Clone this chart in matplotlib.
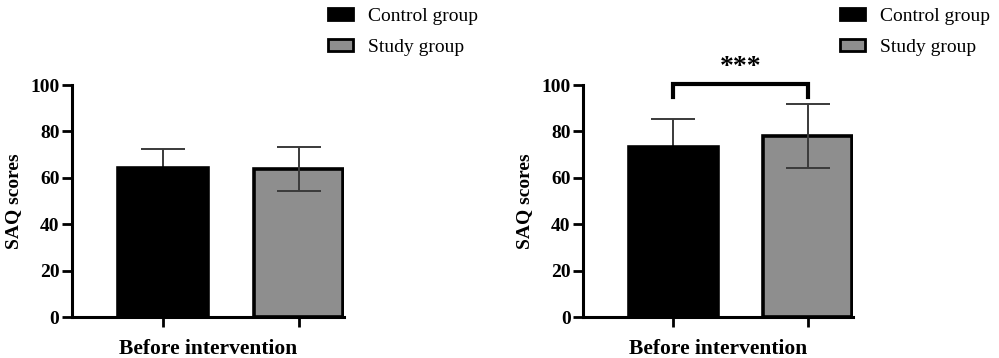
import matplotlib
matplotlib.use("Agg")
import matplotlib.pyplot as plt
from matplotlib.patches import Patch

# data
groups = ["Control group", "Study group"]
xlabel = "Before intervention"
left_means = [64.4, 63.8]
left_sd = [8.0, 9.4]
right_means = [73.3, 78.0]
right_sd = [12.1, 13.8]
yticks = [0, 20, 40, 60, 80, 100]

colors = ["#000000", "#8e8e8e"]
err_color = "#3a3a3a"

plt.rcParams['font.family'] = ['Liberation Serif', 'DejaVu Serif']

fig = plt.figure(figsize=(9.99, 3.58), dpi=100)
W, H = 999, 358


def panel(left_px, right_px, means, sds, sig=False):
    ax = fig.add_axes([left_px / W, (H - 317) / H,
                       (right_px - left_px) / W, 232 / H])
    xs = [0, 1]
    ax.bar(xs, means, width=0.66, color=colors, edgecolor="black",
           linewidth=2.6, zorder=2)
    for i, (x, m, s) in enumerate(zip(xs, means, sds)):
        # control whisker sits behind the black bar, so its lower half is hidden
        z = 1 if i == 0 else 3
        ax.errorbar([x], [m], yerr=[s], color=err_color, elinewidth=1.4,
                    capsize=16, capthick=1.4, zorder=z)
    ax.set_xlim(-0.67, 1.335)
    ax.set_ylim(0, 100)
    ax.set_yticks(yticks)
    ax.set_xticks(xs)
    ax.set_xticklabels(["", ""])
    ax.set_xlabel(xlabel, fontsize=15.5, fontweight="bold", labelpad=5)
    ax.set_ylabel("SAQ scores", fontsize=14, fontweight="bold", labelpad=6)
    for lab in ax.get_yticklabels():
        lab.set_fontweight("bold")
        lab.set_fontsize(14)
    ax.tick_params(axis="both", width=2, length=7, direction="out")
    ax.tick_params(axis="y", pad=2)
    for sp in ["top", "right"]:
        ax.spines[sp].set_visible(False)
    for sp in ["left", "bottom"]:
        ax.spines[sp].set_linewidth(2.2)
    if sig:
        ax.plot([0, 0, 1, 1], [95, 100.5, 100.5, 95], color="black",
                linewidth=3, clip_on=False, solid_joinstyle="miter")
        ax.text(0.5, 102.0, "***", ha="center", va="bottom",
                fontsize=20, fontweight="bold", clip_on=False)
    handles = [Patch(facecolor=c, edgecolor="black", linewidth=2)
               for c in colors]
    return ax, handles


ax1, h = panel(72, 344, left_means, left_sd)
ax2, _ = panel(583, 853, right_means, right_sd, sig=True)

for lx in [328, 840]:
    fig.legend(h, groups, loc="upper left",
               bbox_to_anchor=(lx / W, 1 - 8 / H), frameon=False,
               fontsize=14, handlelength=1.3, handleheight=0.55,
               handletextpad=0.75, labelspacing=0.7,
               borderpad=0, borderaxespad=0)

fig.savefig("out.png", dpi=100)
